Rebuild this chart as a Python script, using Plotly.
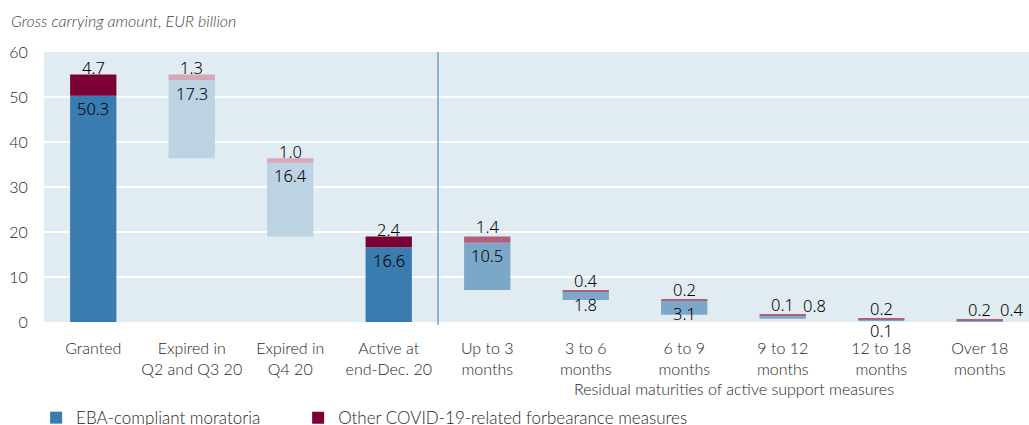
import plotly.graph_objects as go

categories = [
    "Granted",
    "Expired in<br>Q2 and Q3 20",
    "Expired in<br>Q4 20",
    "Active at<br>end-Dec. 20",
    "Up to 3<br>months",
    "3 to 6<br>months",
    "6 to 9<br>months",
    "9 to 12<br>months",
    "12 to 18<br>months",
    "Over 18<br>months",
]
eba = [50.3, 17.3, 16.4, 16.6, 10.5, 1.8, 3.1, 0.8, 0.1, 0.4]
other = [4.7, 1.3, 1.0, 2.4, 1.4, 0.4, 0.2, 0.1, 0.2, 0.2]
# "total" bars start at zero, the others hang from the running level
kinds = ["total", "expired", "expired", "total",
         "residual", "residual", "residual", "residual", "residual", "residual"]

EBA_COL = {"total": "#3b7cb0", "expired": "#bcd3e3", "residual": "#7ba7c9"}
OTH_COL = {"total": "#7a0036", "expired": "#d6a7b9", "residual": "#b3607f"}
FONT = "Lato, 'Open Sans', sans-serif"
TXT = dict(family=FONT, size=16, color="#262626", weight=300)
LBL_FONT = dict(family="'Noto Sans', 'DejaVu Sans', sans-serif", size=16.5, color="#000")

# waterfall bases
bases = []
level = 0.0
for k, e, o in zip(kinds, eba, other):
    if k == "total":
        bases.append(0.0)
        level = e + o
    else:
        level -= e + o
        bases.append(max(level, 0.0))

fig = go.Figure()
fig.add_trace(go.Bar(
    x=categories, y=eba, base=bases, width=0.47,
    marker=dict(color=[EBA_COL[k] for k in kinds], line=dict(width=0)),
    name="EBA-compliant moratoria", hoverinfo="skip", legend="legend",
))
fig.add_trace(go.Bar(
    x=categories, y=other, base=[b + e for b, e in zip(bases, eba)], width=0.47,
    marker=dict(color=[OTH_COL[k] for k in kinds], line=dict(width=0)),
    name="Other COVID-19-related forbearance measures", hoverinfo="skip",
    legend="legend2",
))

# value labels
for i, (cat, b, e, o) in enumerate(zip(categories, bases, eba, other)):
    top = b + e + o
    small = e + o < 1.5
    fig.add_annotation(x=cat, y=top, text=f"{o:.1f}", showarrow=False,
                       yshift=10 if small or kinds[i] == "residual" else 7,
                       font=LBL_FONT)
    if not small:
        fig.add_annotation(x=cat, y=b + e, text=f"{e:.1f}", showarrow=False,
                           yshift=-13, font=LBL_FONT)
    elif e < 0.3:
        # label below the bar
        fig.add_annotation(x=cat, y=b, text=f"{e:.1f}", showarrow=False,
                           yshift=-10, font=LBL_FONT)
    else:
        # label to the right with a short leader line
        fig.add_annotation(x=cat, y=b + e / 2, text=f"{e:.1f}", showarrow=True,
                           xshift=22, ax=10, ay=-12, arrowhead=0, arrowwidth=1,
                           arrowcolor="#111", standoff=0, font=LBL_FONT)

fig.add_shape(type="line", x0=3.5, x1=3.5, xref="x", yref="paper", y0=-0.01, y1=1,
              line=dict(color="#6f9cc7", width=1.5))

fig.add_annotation(x=6.5, xref="x", y=-0.248, yref="paper", yanchor="middle",
                   text="Residual maturities of active support measures",
                   showarrow=False, font=TXT)
fig.add_annotation(x=-0.036, xref="paper", xanchor="left", y=1.117, yref="paper",
                   yanchor="middle", text="<i>Gross carrying amount, EUR billion</i>",
                   showarrow=False, font=dict(family=FONT, size=16, color="#444", weight=300))

legend_style = dict(orientation="h", xanchor="left", y=-0.356, yanchor="middle",
                    font=dict(TXT, size=17), bgcolor="rgba(0,0,0,0)")

fig.update_layout(
    width=1029, height=425,
    barmode="overlay",
    plot_bgcolor="#e1ebf2",
    paper_bgcolor="white",
    font=TXT,
    margin=dict(l=44, r=0, t=52, b=103, autoexpand=False),
    xaxis=dict(showgrid=False, zeroline=False, showline=False,
               ticks="outside", ticklen=12, tickcolor="rgba(0,0,0,0)",
               tickfont=TXT, range=[-0.5, 9.5]),
    yaxis=dict(range=[0, 60], dtick=10, gridcolor="white", gridwidth=2,
               zeroline=False, showline=False,
               ticks="outside", ticklen=12, tickcolor="rgba(0,0,0,0)",
               tickfont=TXT),
    legend=dict(legend_style, x=-0.008),
    legend2=dict(legend_style, x=0.258),
    showlegend=True,
)

fig.write_html("out.html", config={"displayModeBar": False},
               post_script="document.body.style.margin='0';")
